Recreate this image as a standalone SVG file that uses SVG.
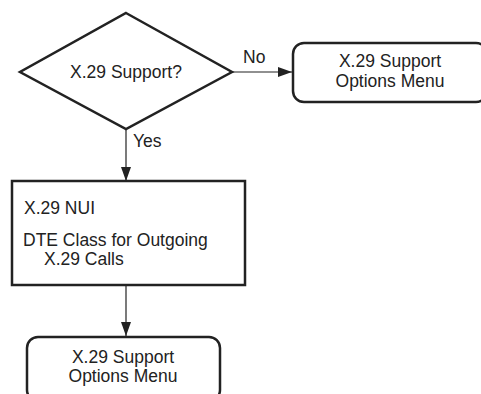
<svg xmlns="http://www.w3.org/2000/svg" width="481" height="394" viewBox="0 0 481 394">
<defs>
<style>
.shape{fill:#fff;stroke:#222;stroke-width:2.5}
.line{stroke:#222;stroke-width:1.2;fill:none}
text{font-family:"Liberation Sans",Arial,sans-serif;font-size:17.5px;fill:#222}
.c{text-anchor:middle}
</style>
<marker id="arr" viewBox="0 0 14 10" refX="14" refY="5" markerWidth="14" markerHeight="10" markerUnits="userSpaceOnUse" orient="auto">
<path d="M0,0 L14,5 L0,10 Z" fill="#222"/>
</marker>
</defs>
<g id="connectors">
<line class="line" x1="232" y1="72" x2="292" y2="72" marker-end="url(#arr)"/>
<text x="243" y="63">No</text>
<line class="line" x1="126" y1="129" x2="126" y2="181" marker-end="url(#arr)"/>
<text x="133" y="147">Yes</text>
<line class="line" x1="126" y1="285" x2="126" y2="336" marker-end="url(#arr)"/>
</g>
<g id="decision">
<polygon class="shape" points="126,13 232,72 126,129 20,72"/>
<text class="c" x="126" y="78">X.29 Support?</text>
</g>
<g id="menu-right">
<rect class="shape" x="293" y="43" width="194" height="59" rx="11"/>
<text class="c" x="390" y="67">X.29 Support</text>
<text class="c" x="390" y="87">Options Menu</text>
</g>
<g id="nui-box">
<rect class="shape" x="12" y="181" width="233" height="104"/>
<text x="24" y="214">X.29 NUI</text>
<text x="23" y="246">DTE Class for Outgoing</text>
<text x="44" y="265">X.29 Calls</text>
</g>
<g id="menu-bottom">
<rect class="shape" x="27" y="337" width="193" height="64" rx="11"/>
<text class="c" x="123" y="363">X.29 Support</text>
<text class="c" x="123" y="382">Options Menu</text>
</g>
</svg>
